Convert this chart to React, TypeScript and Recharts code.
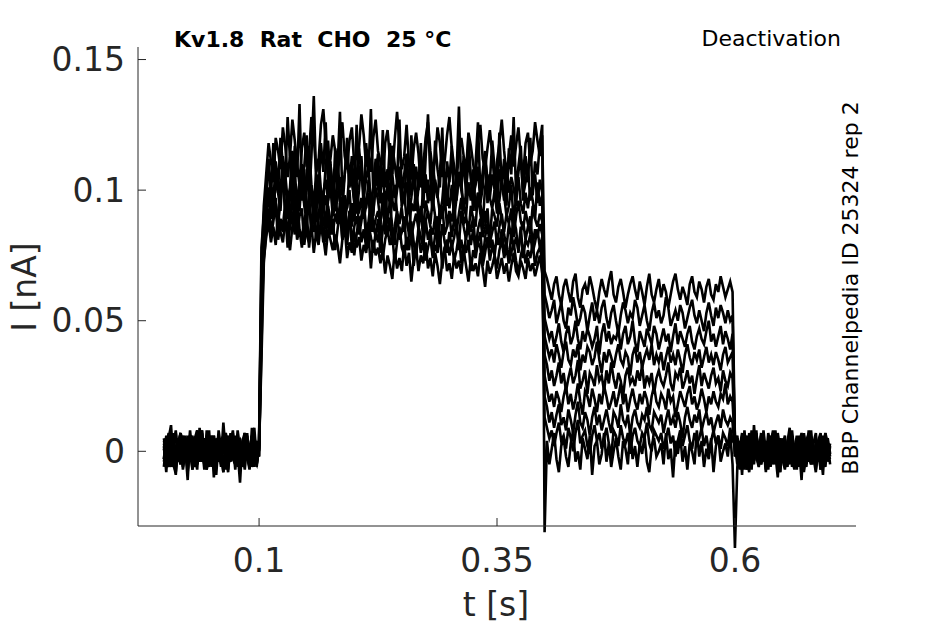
import { LineChart, Line, XAxis, YAxis } from 'recharts';

// sampling grid: 2.5 ms steps from 0 to 0.7 s (281 samples)
const times = Array.from({ length: 281 }, (_, i) => (i * 2.5) / 1000);

const xTicks = [0.1, 0.35, 0.6];
const yTicks = [0, 0.05, 0.1, 0.15];

// currents in pA
// each trace: 41 pre-pulse (to 0.1 s), 119 step, 80 tail (from 0.4 s), 41 post (from 0.6 s)
const trace1 = [
  3, -2, 6, 1, -5, -8, 2, 7, 4, -3,
  0, 5, -6, -1, 8, 3, -4, 2, -7, 1,
  6, -3, -9, 4, 2, -1, 7, -5, 0, 3,
  -4, 8, 1, -6, 5, -2, -7, 4, 9, -3,
  2,
  72, 94, 106, 118, 111, 103, 120, 115, 108, 124,
  117, 105, 113, 127, 119, 110, 102, 116, 122, 109,
  114, 128, 120, 107, 111, 125, 131, 118, 106, 112,
  121, 115, 103, 117, 126, 113, 108, 119, 124, 110,
  104, 116, 129, 121, 109, 114, 107, 120, 127, 115,
  111, 102, 118, 123, 112, 106, 119, 130, 117, 108,
  113, 125, 110, 104, 116, 122, 114, 101, 109, 120,
  126, 115, 107, 112, 124, 118, 105, 111, 121, 128,
  116, 109, 103, 115, 120, 113, 107, 122, 117, 110,
  104, 119, 125, 112, 108, 116, 123, 114, 102, 111,
  118, 127, 115, 106, 113, 121, 109, 117, 124, 112,
  105, 118, 122, 110, 115, 126, 119, 113, 121,
  69, 66, 62, 58, 64, 67, 60, 56, 63, 66,
  61, 57, 65, 68, 59, 55, 62, 64, 60, 67,
  63, 58, 54, 61, 66, 62, 59, 65, 69, 60,
  57, 63, 66, 61, 55, 60, 64, 67, 62, 58,
  65, 61, 56, 63, 68, 60, 57, 62, 66, 59,
  64, 61, 55, 60, 65, 68, 62, 58, 63, 60,
  56, 64, 67, 61, 59, 65, 62, 57, 63, 66,
  60, 58, 64, 61, 67, 63, 59, 62, 65, 61,
  4, -3, -7, 2, 6, 1, -4, 8, 3, -2,
  -6, 0, 5, -3, 7, 2, -5, -1, 6, -8,
  1, 4, -2, 7, -4, 0, 3, -6, 5, 2,
  -3, 8, -1, -5, 4, 1, -7, 3, 6, -2,
  0,
];

const trace2 = [
  -3, 4, 1, -6, 2, 7, -2, -5, 3, 0,
  6, -4, -1, 5, 8, -3, 2, -7, 1, 4,
  -2, 6, -5, 0, 3, -8, 5, 2, -1, 7,
  -4, 1, -6, 3, 5, -2, 0, 6, -3, -5,
  1,
  61, 88, 97, 108, 102, 95, 111, 104, 99, 113,
  106, 96, 101, 115, 108, 93, 104, 110, 98, 105,
  117, 102, 94, 107, 112, 100, 96, 109, 119, 103,
  97, 105, 111, 99, 92, 106, 114, 101, 108, 95,
  103, 116, 107, 98, 104, 110, 93, 101, 112, 105,
  99, 107, 94, 102, 118, 106, 97, 103, 109, 100,
  95, 111, 104, 98, 106, 92, 101, 113, 107, 99,
  104, 96, 110, 102, 97, 108, 115, 101, 94, 105,
  111, 100, 96, 107, 103, 92, 99, 112, 105, 98,
  102, 109, 95, 101, 114, 104, 97, 106, 100, 93,
  108, 103, 96, 110, 99, 105, 101, 94, 107, 112,
  98, 103, 109, 96, 100, 106, 95, 104, 99,
  60, 56, 51, 54, 58, 49, 53, 57, 50, 47,
  55, 52, 59, 54, 48, 51, 56, 53, 46, 52,
  57, 50, 54, 49, 55, 58, 51, 47, 53, 56,
  50, 45, 52, 57, 54, 49, 53, 51, 58, 55,
  48, 52, 56, 50, 46, 53, 57, 51, 54, 49,
  52, 59, 55, 48, 51, 54, 50, 56, 53, 47,
  51, 55, 58, 52, 49, 54, 50, 46, 53, 57,
  52, 48, 55, 51, 56, 53, 49, 54, 50, 52,
  -2, 5, 1, -6, 3, -4, 7, 0, -3, 6,
  2, -5, -1, 4, -7, 3, 8, -2, 1, -5,
  5, -3, 0, 6, -6, 2, -1, 4, -4, 7,
  -3, 1, 5, -2, -8, 3, 0, 6, -4, 2,
  -1,
];

const trace3 = [
  5, -1, -6, 2, 4, -3, 0, 7, -4, 1,
  -7, 3, 6, -2, -5, 2, 8, -1, -4, 3,
  0, -6, 5, 1, -3, 6, -2, -8, 4, 2,
  -1, 5, -5, 0, 7, -3, 3, -6, 1, 4,
  -2,
  48, 82, 93, 101, 96, 89, 105, 99, 92, 108,
  102, 94, 98, 111, 97, 90, 103, 107, 95, 100,
  112, 97, 89, 102, 106, 93, 99, 104, 96, 110,
  101, 92, 97, 105, 99, 88, 94, 108, 103, 96,
  91, 100, 113, 98, 93, 104, 97, 90, 106, 101,
  95, 99, 87, 102, 109, 96, 92, 100, 105, 94,
  98, 103, 91, 97, 110, 99, 93, 88, 101, 106,
  95, 100, 92, 104, 98, 91, 96, 107, 99, 93,
  102, 89, 97, 105, 100, 94, 90, 103, 96, 108,
  92, 99, 95, 87, 101, 106, 97, 93, 100, 91,
  96, 104, 98, 90, 94, 102, 88, 97, 105, 95,
  91, 99, 93, 101, 96, 89, 103, 94, 98,
  51, 47, 43, 46, 40, 44, 49, 42, 38, 45,
  48, 41, 44, 50, 43, 39, 46, 42, 47, 44,
  40, 43, 48, 37, 45, 49, 42, 46, 41, 44,
  43, 47, 39, 45, 48, 41, 44, 50, 42, 38,
  46, 43, 40, 47, 44, 41, 48, 45, 39, 43,
  47, 42, 45, 38, 44, 49, 41, 46, 43, 40,
  45, 48, 42, 39, 44, 47, 43, 41, 46, 50,
  42, 45, 40, 44, 48, 41, 46, 43, 39, 45,
  3, 6, -4, -1, 5, -7, 2, 0, -3, 8,
  -5, 1, 4, -2, -6, 6, 2, -4, 0, 5,
  -3, -7, 3, 7, -1, -4, 2, 5, -6, 1,
  4, -2, -5, 3, 7, -3, 0, -6, 2, 5,
  -1,
];

const trace4 = [
  -4, 2, 7, -3, -6, 1, 4, -1, 6, 3,
  -5, 0, -7, 5, 2, -2, 8, -4, -3, 4,
  1, -6, 3, 5, -2, -8, 2, 6, -1, 3,
  -4, 0, 5, -5, 7, 1, -3, 4, -6, 2,
  0,
  40, 78, 90, 98, 92, 101, 95, 87, 99, 106,
  93, 89, 97, 103, 94, 86, 100, 96, 108, 91,
  95, 102, 88, 97, 104, 92, 99, 85, 96, 101,
  90, 94, 107, 95, 88, 98, 93, 100, 86, 95,
  103, 91, 97, 89, 94, 99, 84, 92, 101, 96,
  88, 93, 98, 90, 86, 97, 102, 91, 87, 94,
  99, 89, 83, 95, 92, 100, 88, 93, 85, 96,
  91, 87, 97, 90, 82, 94, 89, 98, 86, 92,
  88, 95, 84, 91, 97, 87, 90, 83, 94, 89,
  86, 99, 91, 85, 92, 88, 81, 93, 90, 86,
  95, 89, 84, 91, 87, 93, 82, 90, 96, 88,
  85, 92, 87, 83, 94, 89, 86, 91, 88,
  44, 40, 36, 39, 34, 41, 37, 32, 38, 42,
  35, 33, 39, 36, 41, 31, 37, 34, 40, 38,
  33, 36, 42, 35, 30, 38, 34, 39, 36, 32,
  37, 41, 35, 33, 38, 36, 29, 37, 40, 34,
  38, 32, 36, 39, 35, 41, 33, 37, 34, 38,
  31, 36, 40, 34, 37, 33, 39, 35, 30, 37,
  41, 36, 33, 38, 35, 39, 32, 36, 40, 34,
  37, 33, 38, 35, 31, 37, 40, 34, 36, 38,
  -2, 4, -5, 6, 1, -3, -8, 2, 5, -1,
  3, -4, 7, -6, 0, 2, -3, 6, -5, 1,
  4, -2, -6, 3, 8, -1, -4, 5, 0, -7,
  2, 6, -3, 1, -5, 4, 7, -2, -4, 3,
  1,
];

const trace5 = [
  1, -4, 3, 7, -2, -6, 5, 0, -3, 6,
  -8, 2, 4, -1, -5, 3, 7, -2, 0, -6,
  5, 2, -4, 8, 1, -3, -7, 4, 2, -1,
  6, -5, 0, 3, -2, 7, -4, 1, 5, -6,
  3,
  55, 84, 92, 97, 89, 101, 94, 86, 98, 104,
  91, 95, 88, 100, 85, 97, 92, 106, 94, 88,
  99, 83, 96, 91, 102, 87, 93, 98, 90, 84,
  95, 100, 89, 92, 86, 97, 82, 91, 95, 88,
  99, 85, 90, 94, 81, 88, 96, 84, 89, 92,
  87, 98, 83, 90, 95, 86, 79, 91, 88, 93,
  84, 89, 96, 82, 87, 91, 85, 94, 80, 88,
  92, 86, 83, 90, 78, 88, 94, 83, 86, 91,
  82, 89, 85, 79, 92, 86, 81, 88, 84, 90,
  77, 85, 89, 82, 86, 93, 80, 84, 88, 79,
  86, 91, 83, 78, 87, 82, 89, 85, 76, 84,
  88, 81, 86, 90, 79, 85, 82, 87, 83,
  37, 33, 27, 31, 25, 29, 34, 26, 30, 23,
  28, 32, 26, 29, 35, 24, 27, 31, 22, 30,
  28, 25, 33, 27, 29, 23, 31, 26, 34, 28,
  24, 30, 27, 21, 29, 32, 26, 28, 25, 31,
  27, 33, 24, 29, 26, 30, 22, 28, 31, 27,
  25, 29, 34, 26, 23, 30, 28, 32, 24, 27,
  31, 26, 29, 22, 28, 33, 25, 30, 27, 24,
  29, 32, 26, 28, 23, 31, 27, 25, 30, 28,
  6, -2, -5, 3, 1, -7, 4, -1, 2, 7,
  -4, -2, 5, 0, -6, 3, -3, 8, -1, -5,
  2, 6, -4, 0, 3, -2, -7, 5, 1, -3,
  4, 7, -5, -1, 2, -4, 6, 0, -6, 3,
  -2,
];

const trace6 = [
  -3, 6, -1, -5, 2, 8, -4, 3, -7, 0,
  5, -2, 1, -6, 4, 7, -3, 2, -5, -1,
  6, -4, 0, 3, -6, 5, 1, -2, 7, -3,
  -5, 2, 4, -1, -7, 3, 0, 6, -4, 1,
  -2,
  50, 76, 86, 93, 84, 90, 97, 83, 89, 86,
  95, 81, 92, 88, 97, 84, 90, 93, 79, 87,
  96, 85, 91, 82, 89, 100, 86, 80, 94, 88,
  83, 91, 87, 95, 81, 89, 84, 92, 78, 86,
  90, 83, 88, 96, 85, 80, 93, 87, 82, 89,
  76, 85, 91, 83, 88, 79, 86, 92, 81, 84,
  90, 77, 83, 88, 80, 74, 86, 82, 78, 89,
  81, 85, 75, 83, 90, 79, 87, 80, 76, 84,
  78, 82, 88, 77, 81, 74, 83, 86, 79, 85,
  76, 80, 84, 73, 82, 87, 78, 81, 75, 83,
  79, 85, 76, 80, 72, 84, 78, 82, 77, 86,
  74, 81, 79, 83, 76, 80, 85, 78, 82,
  29, 24, 19, 22, 17, 23, 20, 15, 21, 25,
  18, 22, 16, 20, 26, 19, 14, 23, 21, 17,
  24, 20, 15, 22, 18, 25, 21, 16, 19, 23,
  17, 21, 26, 18, 22, 15, 20, 24, 19, 16,
  22, 18, 23, 20, 14, 21, 25, 19, 17, 22,
  20, 16, 24, 19, 21, 13, 18, 23, 20, 17,
  22, 25, 18, 21, 16, 19, 24, 20, 15, 21,
  18, 23, 19, 17, 22, 20, 26, 18, 21, 19,
  3, -5, 1, 7, -3, -1, 5, -6, 2, 0,
  -4, 6, 3, -7, 1, -2, 4, -5, 7, 0,
  -3, 2, -6, 5, -1, 3, -4, 6, 1, -8,
  2, -2, 5, -3, 0, 4, -6, 1, 7, -4,
  2,
];

const trace7 = [
  4, 0, -6, 2, 5, -3, -1, 7, -5, 3,
  -2, 6, -7, 1, 4, -4, 0, 5, -3, 8,
  -6, 2, -1, -4, 4, 6, -2, -5, 1, 3,
  -7, 5, 0, -3, 6, 2, -4, -1, 7, -5,
  1,
  35, 72, 84, 90, 82, 88, 95, 81, 87, 84,
  92, 78, 86, 90, 83, 97, 85, 81, 89, 92,
  78, 87, 84, 94, 82, 88, 80, 91, 86, 83,
  89, 77, 85, 92, 81, 86, 79, 88, 84, 75,
  83, 90, 80, 85, 78, 87, 82, 76, 84, 80,
  88, 74, 81, 85, 79, 83, 72, 80, 86, 78,
  75, 82, 77, 84, 71, 79, 83, 76, 80, 73,
  78, 82, 74, 79, 76, 84, 70, 78, 81, 75,
  80, 73, 77, 83, 72, 79, 76, 81, 69, 77,
  74, 80, 78, 71, 76, 82, 73, 79, 75, 70,
  77, 81, 74, 78, 72, 76, 80, 73, 68, 75,
  79, 72, 77, 74, 80, 71, 76, 78, 73,
  21, 17, 11, 15, 9, 14, 18, 10, 13, 8,
  16, 12, 7, 14, 19, 11, 9, 15, 12, 6,
  13, 17, 10, 14, 8, 12, 16, 11, 7, 15,
  13, 9, 18, 12, 10, 14, 6, 13, 16, 11,
  9, 14, 12, 17, 10, 8, 15, 13, 11, 14,
  7, 12, 16, 10, 13, 9, 15, 11, 5, 13,
  17, 12, 9, 14, 11, 16, 8, 12, 15, 10,
  13, 7, 11, 14, 9, 16, 12, 10, 13, 11,
  -1, 5, -4, 2, -7, 4, 1, -3, 6, -2,
  0, -5, 8, -1, 3, -6, 2, 5, -4, -2,
  4, 1, -5, 7, -3, 0, 6, -2, -6, 3,
  1, -4, 5, 2, -7, 0, 4, -3, 6, -1,
  -3,
];

const trace8 = [
  -6, 3, 1, -4, 7, -2, 5, -5, 0, 4,
  -3, 8, -1, -6, 2, 5, -4, 1, -7, 3,
  0, 6, -3, 2, -5, 4, 7, -1, -4, 1,
  5, -6, 2, 0, -3, 6, -2, 3, -5, 1,
  4,
  66, 74, 82, 88, 80, 86, 79, 92, 84, 80,
  88, 83, 77, 86, 91, 81, 85, 78, 89, 83,
  80, 87, 76, 84, 79, 88, 82, 75, 85, 81,
  77, 83, 79, 72, 81, 86, 74, 80, 76, 84,
  78, 82, 73, 79, 76, 83, 70, 81, 75, 78,
  72, 77, 68, 75, 71, 66, 77, 70, 74, 69,
  79, 71, 76, 65, 74, 78, 69, 75, 72, 80,
  70, 74, 67, 76, 71, 64, 73, 78, 69, 72,
  66, 75, 70, 73, 68, 77, 71, 65, 74, 69,
  72, 67, 76, 70, 63, 73, 68, 71, 75, 66,
  70, 74, 68, 72, 65, 71, 76, 69, 67, 73,
  70, 66, 74, 69, 72, 67, 71, 75, 68,
  13, 9, 5, 8, 2, 7, 11, 4, 6, 1,
  9, 5, 0, 7, 12, 3, 6, 8, 2, -1,
  6, 10, 4, 7, 1, 5, 9, 3, -2, 8,
  6, 2, 10, 5, 3, 7, -1, 6, 9, 4,
  2, 7, 5, 11, 3, 0, 8, 6, 4, 7,
  1, 5, 9, 3, 6, -2, 4, 8, 2, 6,
  10, 4, 1, 7, 3, 5, 9, 2, 6, 0,
  4, 8, 3, 6, 1, 7, 5, 2, 9, 4,
  5, -3, 0, -7, 3, 6, -2, 1, -5, 4,
  -1, 7, -4, 2, -6, 3, 0, -3, 5, -8,
  2, 4, -2, -5, 6, 1, -4, 3, 7, -1,
  -6, 2, 5, -3, 0, 4, -7, 1, 6, -2,
  3,
];

const trace9 = [
  2, -8, 5, 10, -4, -9, 3, 7, -6, 1,
  -11, 6, 4, -2, -7, 9, 0, -5, 8, -3,
  5, -10, 2, 6, -4, 11, -1, -7, 3, 8,
  -5, 0, -12, 4, 7, -2, -6, 9, 1, -4,
  3,
  78, 90, 101, 112, 97, 118, 106, 99, 120, 110,
  103, 128, 112, 96, 117, 105, 133, 100, 109, 121,
  95, 113, 136, 104, 99, 118, 107, 126, 101, 111,
  94, 116, 109, 130, 98, 106, 120, 102, 113, 97,
  125, 104, 110, 93, 118, 107, 131, 99, 105, 114,
  96, 123, 101, 108, 92, 117, 110, 103, 127, 98,
  106, 114, 95, 121, 102, 109, 100, 118, 93, 112,
  129, 104, 97, 119, 108, 101, 124, 96, 111, 103,
  117, 94, 106, 132, 100, 113, 98, 121, 105, 92,
  110, 126, 99, 107, 115, 95, 103, 119, 108, 97,
  122, 101, 112, 94, 116, 106, 128, 99, 109, 117,
  96, 113, 103, 120, 98, 111, 106, 118, 125,
  -31, 4, -5, 1, 7, -3, -8, 2, 5, -2,
  -6, 3, 8, -4, 0, -7, 5, 1, -3, 6,
  -9, 2, 4, -5, -1, 7, -4, 3, -6, 0,
  5, -2, -7, 4, 1, -5, 8, -3, 2, -6,
  3, -1, 6, -4, -8, 2, 5, -2, 0, 3,
  -5, 7, -3, 1, -10, 4, -1, 6, -4, 2,
  -7, 3, 0, -5, 8, -2, 4, -6, 1, -3,
  5, -8, 2, 6, -4, 0, 3, -2, 7, -5,
  -37, -6, 4, -9, 8, -3, 1, -7, 10, -2,
  -5, 6, 2, -8, 4, -4, 7, -1, -10, 5,
  0, -6, 3, 9, -3, -7, 5, 1, -11, 6,
  2, -4, 8, -2, -6, 4, 0, -9, 7, 3,
  -5,
];

const traces = [trace1, trace2, trace3, trace4, trace5, trace6, trace7, trace8, trace9];

const data = times.map((t, i) => {
  const row: Record<string, number> = { t };
  traces.forEach((tr, k) => {
    row[`s${k}`] = tr[i] / 1000;
  });
  return row;
});

const FONT = '"DejaVu Sans", sans-serif';
const AXIS = '#262626';

export default function App() {
  return (
    <div style={{ position: 'relative', width: 945, height: 624, background: '#fff', fontFamily: FONT }}>
      <style>{`body{margin:0}.recharts-line,.recharts-line *{clip-path:none !important}`}</style>
      <LineChart width={945} height={624} data={data} margin={{ top: 47, right: 89, bottom: 38, left: 38 }}>
        <XAxis
          type="number"
          dataKey="t"
          domain={[-0.0272, 0.7272]}
          allowDataOverflow
          ticks={xTicks}
          interval={0}
          height={60}
          tickSize={-8}
          tickMargin={31}
          axisLine={{ stroke: AXIS }}
          tickLine={{ stroke: AXIS }}
          tick={{ fill: AXIS, fontSize: 33, fontFamily: FONT }}
        />
        <YAxis
          type="number"
          domain={[-0.0286, 0.1548]}
          allowDataOverflow
          ticks={yTicks}
          interval={0}
          width={100}
          tickSize={-8}
          tickMargin={21}
          axisLine={{ stroke: AXIS }}
          tickLine={{ stroke: AXIS }}
          tick={{ fill: AXIS, fontSize: 33, fontFamily: FONT }}
        />
        {traces.map((_, k) => (
          <Line
            key={k}
            type="linear"
            dataKey={`s${k}`}
            stroke="#000"
            strokeWidth={2.6}
            dot={false}
            activeDot={false}
            isAnimationActive={false}
          />
        ))}
      </LineChart>
      <svg width={945} height={624} style={{ position: 'absolute', left: 0, top: 0, pointerEvents: 'none' }}>
        <text x={174} y={47} fontSize={22} fontWeight="bold" fill="#000" fontFamily={FONT} style={{ whiteSpace: 'pre' }}>
          {'Kv1.8  Rat  CHO  25 °C'}
        </text>
        <text x={841} y={46} fontSize={22} fill="#000" textAnchor="end" fontFamily={FONT}>
          Deactivation
        </text>
        <text x={858} y={288} fontSize={22} fill="#000" textAnchor="middle" fontFamily={FONT} transform="rotate(-90 858 288)">
          BBP Channelpedia ID 25324 rep 2
        </text>
        <text x={496} y={616} fontSize={33} fill={AXIS} textAnchor="middle" fontFamily={FONT}>
          t [s]
        </text>
        <text x={36} y={287} fontSize={33} fill={AXIS} textAnchor="middle" fontFamily={FONT} transform="rotate(-90 36 287)">
          I [nA]
        </text>
      </svg>
    </div>
  );
}
